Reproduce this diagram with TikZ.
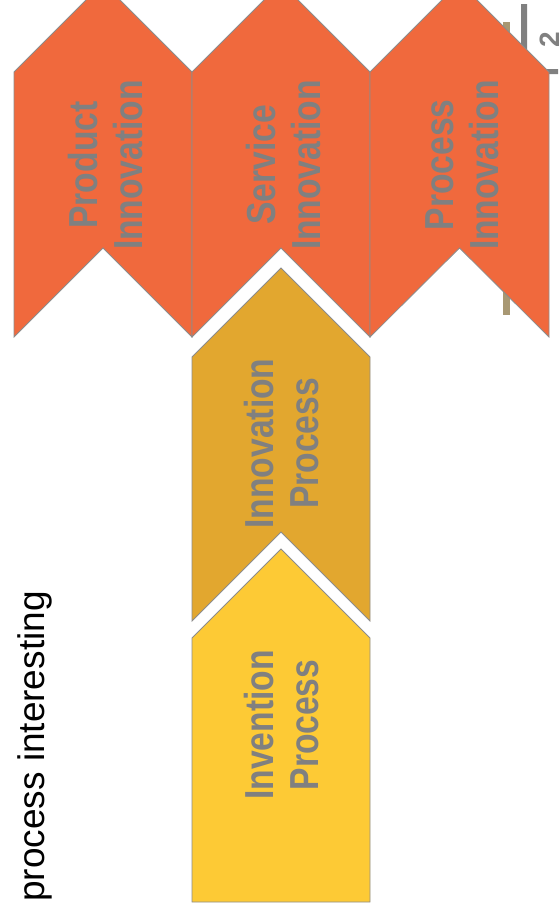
\documentclass[tikz,border=0pt]{standalone}
\usepackage{fontspec}
\setmainfont{Liberation Sans}
\usepackage{graphicx}
\definecolor{orangefill}{HTML}{F0693D}
\definecolor{innovfill}{HTML}{E2A72F}
\definecolor{inventfill}{HTML}{FDCA35}
\definecolor{chevline}{HTML}{8C8C8C}
\definecolor{labelgray}{HTML}{808080}
\definecolor{tanbar}{HTML}{A89873}
\newcommand\twolines[2]{\scalebox{0.83}[1]{\begin{tabular}{@{}c@{}}#1\\#2\end{tabular}}}
\begin{document}
\begin{tikzpicture}[x=1pt,y=-1pt,
  chev/.style={draw=chevline, line width=0.8pt, line join=miter},
  gtext/.style={rotate=90, inner sep=0pt, text=labelgray, font=\bfseries\fontsize{40.5}{45}\selectfont},
  btext/.style={rotate=90, inner sep=0pt, text=black, font=\fontsize{37}{44}\selectfont}]
\useasboundingbox (0,0) rectangle (558,913);
\clip (0,0) rectangle (558,913);
% background bits at right
\fill[tanbar] (503,22) rectangle (510,315);
\fill[labelgray] (521,4) -- (527,4) -- (527,69) -- (558,69) -- (558,74) -- (521,74) -- cycle;
\node[rotate=90, inner sep=0pt, text=labelgray, font=\bfseries\fontsize{28}{34}\selectfont, anchor=north] (two) at (540,39.5) {2};
% top chevrons
\filldraw[chev, fill=orangefill] (14,72) -- (103,-17) -- (192,72) -- (192,337) -- (103,248) -- (14,337) -- cycle;
\filldraw[chev, fill=orangefill] (192,72) -- (281,-17) -- (370,72) -- (370,337) -- (281,248) -- (192,337) -- cycle;
\filldraw[chev, fill=orangefill] (370,72) -- (459.5,-17.5) -- (549,72) -- (549,337) -- (459.5,248) -- (370,337) -- cycle;
% innovation process
\filldraw[chev, fill=innovfill] (192,357) -- (281,268) -- (370,357) -- (370,621) -- (281,532) -- (192,621) -- cycle;
% invention process
\filldraw[chev, fill=inventfill] (192,638) -- (281,549) -- (370,638) -- (370,902) -- (192,902) -- cycle;
% labels
\node[gtext] (tProd) at (110.5,165) {\twolines{Product}{Innovation}};
\node[gtext] (tServ) at (288.5,165) {\twolines{Service}{Innovation}};
\node[gtext] (tProc) at (466.5,165) {\twolines{Process}{Innovation}};
\node[gtext] (tInnov) at (286.5,443.5) {\twolines{Innovation}{Process}};
\node[gtext] (tInv) at (286.5,725) {\twolines{Invention}{Process}};
\node[btext] (tLabel) at (34.5,746.5) {process interesting};
\end{tikzpicture}
\end{document}
